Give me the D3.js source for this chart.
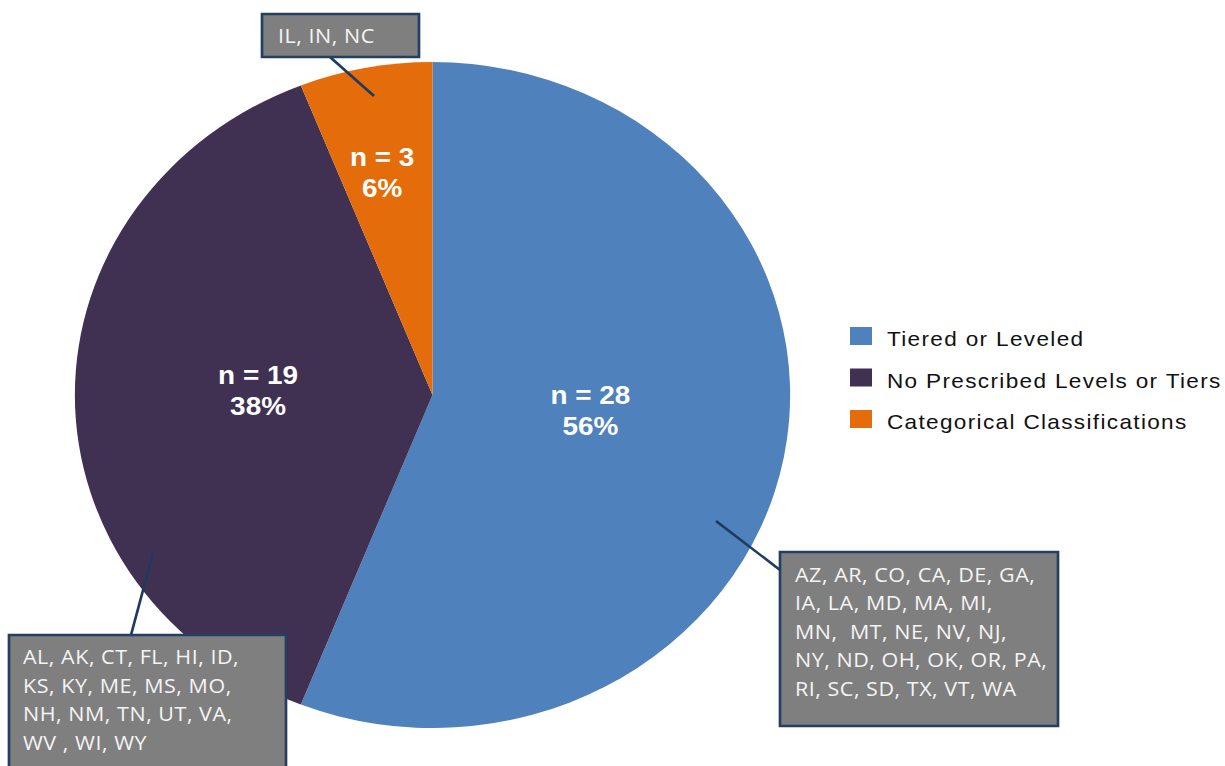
<!DOCTYPE html>
<html>
<head>
<meta charset="utf-8">
<script src="https://cdn.jsdelivr.net/npm/d3@7"></script>
<style>
  body { margin: 0; background: #fff; }
  .slice-label { font-family: Arial, "Liberation Sans", sans-serif; font-weight: bold; font-size: 26px; fill: #fff; }
  .legend-label { font-family: Arial, "Liberation Sans", sans-serif; font-size: 21px; fill: #111; letter-spacing: 1.25px; }
  .callout-text { font-family: "Open Sans", Lato, sans-serif; font-size: 20px; fill: #f4f4f4; letter-spacing: 0.5px; }
</style>
</head>
<body>
<div id="chart"></div>
<script>

const categories = ["Tiered or Leveled", "No Prescribed Levels or Tiers", "Categorical Classifications"];
const counts = [28, 19, 3];
const colors = ["#4F81BD", "#403152", "#E46C0A"];

const tieredStates = ["AZ, AR, CO, CA, DE, GA,", "IA, LA, MD, MA, MI,", "MN,  MT, NE, NV, NJ,", "NY, ND, OH, OK, OR, PA,", "RI, SC, SD, TX, VT, WA"];
const noLevelStates = ["AL, AK, CT, FL, HI, ID,", "KS, KY, ME, MS, MO,", "NH, NM, TN, UT, VA,", "WV , WI, WY"];
const categoricalStates = ["IL, IN, NC"];


const width = 1225, height = 766;
const sx = 1.074;              // the picture is a bit wider than tall
const X = v => v / sx;

const svg = d3.select("#chart")
  .append("svg")
  .attr("width", width)
  .attr("height", height);

const g = svg.append("g")
  .attr("transform", `scale(${sx},1)`);

const radius = 333;
const cx = X(432.5), cy = 395;

const pie = d3.pie().sort(null).value(d => d);
const arc = d3.arc().innerRadius(0).outerRadius(radius);
const arcs = pie(counts);
const total = d3.sum(counts);

const pieG = g.append("g")
  .attr("transform", `translate(${cx},${cy})`);

pieG.selectAll("path.slice")
  .data(arcs)
  .join("path")
  .attr("class", "slice")
  .attr("d", arc)
  .attr("fill", (d, i) => colors[i]);

// where the label sits: share of the radius, and share of the slice's sweep
const labelRadius = [0.444, 0.488, 0.684];
const labelSweep = [0.476, 0.512, 0.45];

const labels = pieG.selectAll("text.slice-label")
  .data(arcs)
  .join("text")
  .attr("class", "slice-label")
  .attr("text-anchor", "middle")
  .attr("transform", (d, i) => {
    const a = d.startAngle + (d.endAngle - d.startAngle) * labelSweep[i];
    const r = radius * labelRadius[i];
    return `translate(${r * Math.sin(a)},${-r * Math.cos(a) - 6.4})`;
  });
labels.append("tspan").attr("x", 0).attr("y", 0).text(d => `n = ${d.value}`);
labels.append("tspan").attr("x", 0).attr("y", 31.5).text(d => d3.format(".0%")(d.value / total));

// callouts: box in picture pixels, leader from pie to box
const callouts = [
  { lines: tieredStates, box: [780, 552, 278, 174], from: [716, 521], to: [780, 570], tx: 795, ty: 582 },
  { lines: noLevelStates, box: [9, 635, 277, 140], from: [153, 553], to: [131, 635], tx: 23, ty: 664.5 },
  { lines: categoricalStates, box: [262, 14, 157, 43], from: [374, 96], to: [330, 57], tx: 278, ty: 43 }
];

g.selectAll("line.leader")
  .data(callouts)
  .join("line")
  .attr("class", "leader")
  .attr("x1", d => X(d.from[0]))
  .attr("y1", d => d.from[1])
  .attr("x2", d => X(d.to[0]))
  .attr("y2", d => d.to[1])
  .attr("stroke", "#1F3A5F")
  .attr("stroke-width", 2.5);

const boxes = g.selectAll("g.callout")
  .data(callouts)
  .join("g")
  .attr("class", "callout");

boxes.append("rect")
  .attr("x", d => X(d.box[0]))
  .attr("y", d => d.box[1])
  .attr("width", d => X(d.box[2]))
  .attr("height", d => d.box[3])
  .attr("fill", "#7F7F7F")
  .attr("stroke", "#243F60")
  .attr("stroke-width", 2.5);

boxes.each(function(d) {
  d3.select(this).selectAll("text")
    .data(d.lines)
    .join("text")
    .attr("class", "callout-text")
    .attr("x", X(d.tx))
    .attr("y", (t, i) => d.ty + i * 28.4)
    .style("white-space", "pre")
    .text(t => t);
});

// legend
const legend = g.selectAll("g.legend")
  .data(categories)
  .join("g")
  .attr("class", "legend")
  .attr("transform", (d, i) => `translate(${X(850)},${336 + i * 41.5})`);

legend.append("rect")
  .attr("x", 0)
  .attr("y", -9)
  .attr("width", X(22))
  .attr("height", 18)
  .attr("fill", (d, i) => colors[i]);

legend.append("text")
  .attr("class", "legend-label")
  .attr("x", X(37))
  .attr("y", 10)
  .style("white-space", "pre")
  .text(d => d);

</script>
</body>
</html>
